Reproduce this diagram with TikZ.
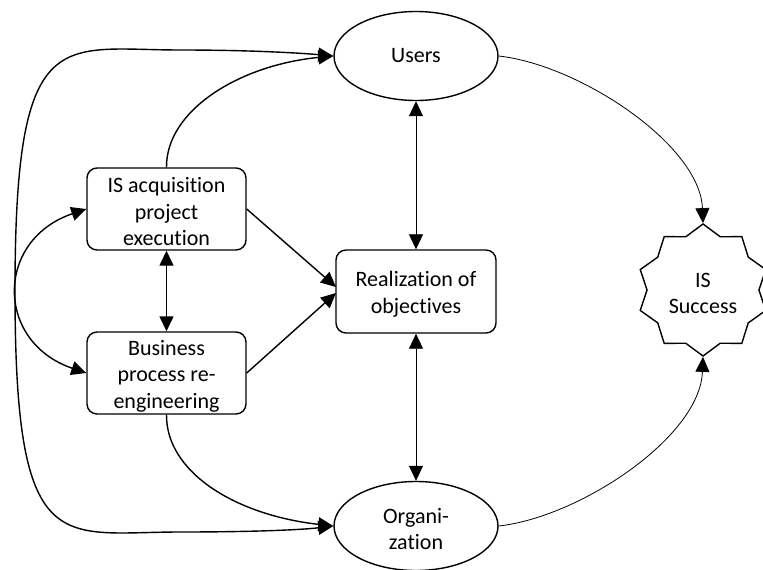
\documentclass[tikz,border=0pt]{standalone}
\usepackage{fontspec}
\setmainfont{Carlito}[RawFeature={-liga,-clig,-calt}]
\usetikzlibrary{arrows.meta,shapes.geometric}
\newcommand\topstrutx{\rule{0pt}{21pt}}
\tikzset{
  every node/.style={font=\fontsize{22}{26.5}\selectfont, align=center, inner sep=0pt},
  roundbox/.style={draw, line width=1.4pt, rounded corners=10pt, minimum width=159pt, minimum height=82pt},
  oval/.style={draw, ellipse, line width=1.4pt, minimum width=164pt, minimum height=89pt},
  seal/.style={draw, star, star points=10, star point ratio=1.18, minimum size=132pt, line width=1.4pt},
  tip/.tip={Triangle[length=15pt,width=14pt]},
  conn/.style={line width=1.4pt},
  thinconn/.style={line width=0.8pt},
}
\begin{document}
\begin{tikzpicture}[x=1pt,y=-1pt]
\useasboundingbox (0,0) rectangle (763,570);
\node[oval] (usr) at (416,56) {Users};
\node[oval] (org) at (416,526) {\topstrutx Organi-\\zation};
\node[roundbox] (isa) at (166.5,209) {\topstrutx IS acquisition\\project\\execution};
\node[roundbox] (bus) at (166.5,373) {\topstrutx Business\\process re-\\engineering};
\node[roundbox, minimum width=160pt, minimum height=83pt] (real) at (416,291.5) {\topstrutx Realization of\\objectives};
\node[seal] (succ) at (703,290) {\topstrutx IS\\Success};
\coordinate (rA) at (336,287);
\coordinate (rB) at (336,293);
% big outer curve Users <-> Organization
\draw[conn, tip-tip] (org.west) .. controls (300,530) and (250,532) .. (180,532)
   .. controls (60,532) and (15,562) .. (15,291)
   .. controls (15,20) and (60,50) .. (180,50)
   .. controls (250,50) and (300,53) .. (usr.west);
% IS acquisition <-> Business (left C curve)
\draw[conn, tip-tip] (isa.west) .. controls (-5,240) and (-5,342) .. (bus.west);
% IS acquisition -> Users
\draw[conn, -tip] (isa.north) .. controls (166,110) and (240,65) .. (usr.west);
% Business -> Organization
\draw[conn, -tip] (bus.south) .. controls (166,472) and (235,515) .. (org.west);
% IS acquisition <-> Business vertical
\draw[conn, tip-tip] (isa.south) -- (bus.north);
% to Realization
\draw[conn, -tip] (isa.east) -- (rA);
\draw[conn, -tip] (bus.east) -- (rB);
% Users <-> Realization <-> Organization
\draw[thinconn, tip-tip] (usr.south) -- (real.north);
\draw[thinconn, tip-tip] (real.south) -- (org.north);
% to IS Success
\draw[thinconn, -tip] (usr.east) .. controls (580,65) and (700,145) .. (succ.north);
\draw[thinconn, -tip] (org.east) .. controls (580,517) and (700,437) .. (succ.south);
\end{tikzpicture}
\end{document}
